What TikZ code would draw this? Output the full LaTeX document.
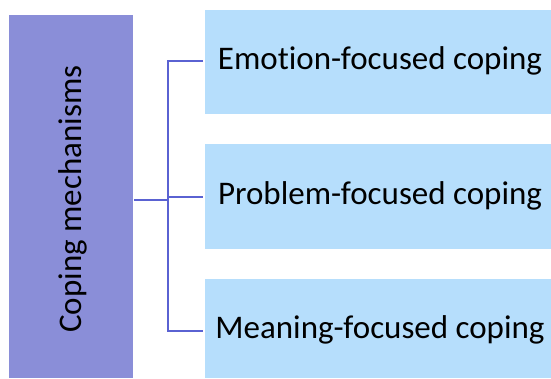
\documentclass[tikz,border=0pt]{standalone}
\usepackage{fontspec}
\setmainfont[Ligatures=NoCommon]{Carlito}
\definecolor{lpurple}{HTML}{8A8ED8}
\definecolor{lblue}{HTML}{B6DEFC}
\definecolor{lline}{HTML}{5A62D2}
\begin{document}
\begin{tikzpicture}[x=1pt,y=-1pt,
  mainbox/.style={fill=lpurple,draw=none,inner sep=0pt},
  subbox/.style={fill=lblue,draw=none,inner sep=0pt},
  lbl/.style={font=\fontsize{33}{39}\selectfont,text=black,inner sep=0pt},
  conn/.style={draw=lline,line width=1.3pt}]
\useasboundingbox (0,0) rectangle (551,378);
\fill[lpurple] (9,15) rectangle (133,378);
\fill[lblue] (205,10) rectangle (551,114);
\fill[lblue] (205,144) rectangle (551,249);
\fill[lblue] (205,279) rectangle (551,378);
\node[lbl,rotate=90] (m) at (73,199) {Coping mechanisms};
\node[lbl] (e) at (380,61) {Emotion-focused coping};
\node[lbl] (p) at (380,196) {Problem-focused coping};
\node[lbl] (g) at (380,330) {Meaning-focused coping};
\coordinate (ml) at (134,200);
\coordinate (j) at (168,200);
\coordinate (e0) at (203,61);
\coordinate (p0) at (203,197);
\coordinate (g0) at (203,331);
\draw[conn] (ml) -- (j);
\draw[conn] (e0) -- (e0 -| j) -- (g0 -| j) -- (g0);
\draw[conn] (p0 -| j) -- (p0);
\end{tikzpicture}
\end{document}
